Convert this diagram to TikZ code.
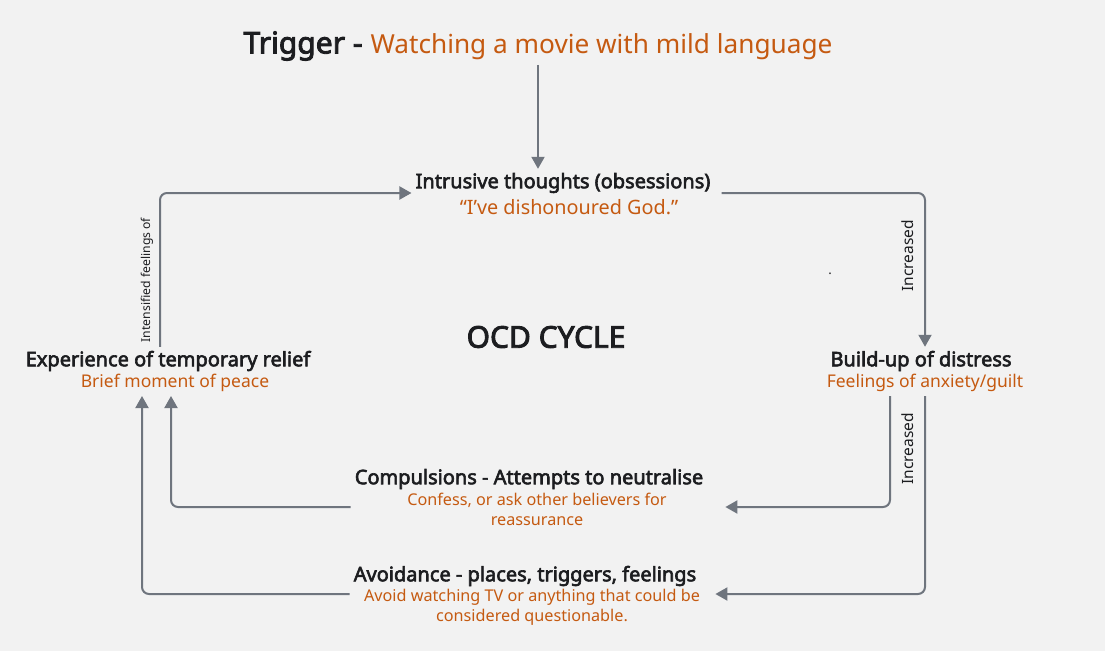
\documentclass[tikz,border=0pt]{standalone}
\usepackage{xcolor}
\usepackage{fontspec}
\setmainfont{Noto Sans}
\newfontfamily\headfont[FakeBold=3]{Noto Sans}
\usepackage{tikz}
\usetikzlibrary{arrows.meta,calc}

\definecolor{bggrey}{HTML}{F2F2F2}
\definecolor{linegrey}{HTML}{6F757E}
\definecolor{ink}{HTML}{1C1D20}
\definecolor{rust}{HTML}{C55A11}

\tikzset{
    flow/.style={draw=linegrey, line width=2pt, rounded corners=7pt, -{Triangle[length=12pt,width=13pt]}},
    stage/.style={inner sep=4pt, text=ink, font=\headfont\fontsize{20}{24}\selectfont},
    detail/.style={inner sep=4pt, text=rust, align=center, font=\fontsize{17.5}{21}\selectfont},
    longdetail/.style={detail, font=\fontsize{16.2}{20}\selectfont},
    edgenote/.style={inner sep=1pt, text=ink, rotate=90, font=\fontsize{15.5}{17}\selectfont},
}

\begin{document}
\begin{tikzpicture}[x=1pt, y=-1pt]
    \fill[bggrey] (0,0) rectangle (1105,651);
    \useasboundingbox (0,0) rectangle (1105,651);
    % trigger line
    \node[inner sep=4pt, text=ink] (trig) at (538,46) {{\headfont\fontsize{30}{34}\selectfont Trigger -}\hspace{8pt}{\color{rust}\fontsize{26.2}{30}\selectfont Watching a movie with mild language}};
    % the four stages
    \node[stage] (intr) at (563,183) {Intrusive thoughts (obsessions)};
    \node[detail, font=\fontsize{19.8}{22}\selectfont] (intrsub) at (569,207) {“I’ve dishonoured God.”};
    \node[stage] (build) at (921,361) {Build-up of distress};
    \node[detail] (buildsub) at (925,383) {Feelings of anxiety/guilt};
    \node[stage] (relief) at (168,361) {Experience of temporary relief};
    \node[detail] (reliefsub) at (175,383) {Brief moment of peace};
    \node[stage] (comp) at (529,479) {Compulsions - Attempts to neutralise};
    \node[longdetail] (compsub) at (537,509) {Confess, or ask other believers for\\reassurance};
    \node[stage] (avoid) at (525,576) {Avoidance - places, triggers, feelings};
    \node[longdetail] (avoidsub) at (532,607) {Avoid watching TV or anything that could be\\considered questionable.};
    \node[text=ink, font=\headfont\fontsize{30}{34}\selectfont] (cycle) at (546,337) {OCD CYCLE};
    \node[text=ink, anchor=base, inner sep=0pt, font=\fontsize{13}{14}\selectfont] (dot) at (830,274) {.};
    % labels on the connectors
    \node[edgenote] (incA) at (908,256) {Increased};
    \node[edgenote] (incB) at (908,449) {Increased};
    \node[edgenote, font=\fontsize{12.2}{14}\selectfont] (intens) at (147,280) {Intensified feelings of};
    % connectors
    \draw[flow] (trig.south) -- (trig.south |- intr.north);
    \draw[flow] ($(intr.east)+(7,10)$) -| ([xshift=4pt]build.north);
    \draw[flow] ([xshift=-35pt]buildsub.south) |- ($(comp.east)+(18,28)$);
    \draw[flow] (buildsub.south) |- ($(avoid.east)+(15,18)$);
    \draw[flow] ($(comp.west)+(0,28)$) -| ([xshift=-4pt]reliefsub.south);
    \draw[flow] ($(avoid.west)+(0,18)$) -| ([xshift=-33pt]reliefsub.south);
    \draw[flow] ([xshift=-8pt]relief.north) |- ($(intr.west)+(0,10)$);
\end{tikzpicture}
\end{document}
